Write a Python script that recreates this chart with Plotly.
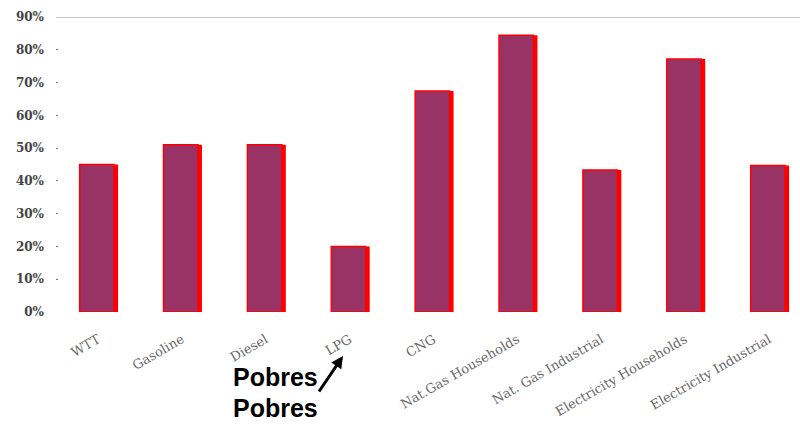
import plotly.graph_objects as go

categories = ["WTT", "Gasoline", "Diesel", "LPG", "CNG", "Nat.Gas Households",
              "Nat. Gas Industrial", "Electricity Households", "Electricity Industrial"]
shares = [0.45, 0.51, 0.51, 0.20, 0.674, 0.844, 0.433, 0.772, 0.447]
ytick_vals = [0, 0.1, 0.2, 0.3, 0.4, 0.5, 0.6, 0.7, 0.8, 0.9]
ytick_text = ["0%", "10%", "20%", "30%", "40%", "50%", "60%", "70%", "80%", "90%"]

W, H = 800, 427
L, R, T, B = 56, 0, 17, 115
pw, ph = W - L - R, H - T - B


def px(x):
    return (x - L) / pw


def py(y):
    return (H - B - y) / ph


fig = go.Figure()
# red drop-shadow behind each bar
fig.add_trace(go.Bar(
    x=list(range(len(categories))), y=shares, width=0.44, offset=-0.2,
    marker=dict(color="#ff0000", line=dict(width=0)),
    hoverinfo="skip", showlegend=False,
))
fig.add_trace(go.Bar(
    x=list(range(len(categories))), y=shares, width=0.41, offset=-0.218,
    marker=dict(color="#993366", line=dict(color="#ff0000", width=1.5)),
    showlegend=False,
))

# top border line at 90%
fig.add_shape(type="line", xref="paper", yref="y", x0=0, x1=1, y0=0.9, y1=0.9,
              line=dict(color="#8c8c8c", width=1.2))

# "Pobres" labels with arrow pointing at LPG
for yy in (377, 408):
    fig.add_annotation(xref="paper", yref="paper", x=px(275), y=py(yy), text="<b>Pobres</b>",
                       xanchor="center", yanchor="middle", showarrow=False,
                       font=dict(family="Arial, Liberation Sans", size=25, color="black"))
fig.add_annotation(xref="paper", yref="paper", x=px(343), y=py(356), text="",
                   showarrow=True, axref="pixel", ayref="pixel", ax=-25, ay=37,
                   arrowhead=2, arrowsize=0.8, arrowwidth=3, arrowcolor="black")

fig.update_layout(
    width=W, height=H,
    margin=dict(l=L, r=R, t=T, b=B),
    paper_bgcolor="white", plot_bgcolor="white",
    barmode="overlay",
    xaxis=dict(
        range=[-0.5, 8.37], tickmode="array", tickvals=list(range(len(categories))),
        ticktext=categories, tickangle=-30, showgrid=False, zeroline=False, showline=False,
        ticks="outside", ticklen=14, tickcolor="rgba(0,0,0,0)",
        tickfont=dict(family="DejaVu Serif", size=13, color="#6a6a6a"),
    ),
    yaxis=dict(
        range=[0, 0.9], tickmode="array", tickvals=ytick_vals, ticktext=ytick_text,
        showgrid=False, zeroline=False, showline=False,
        ticks="inside", ticklen=2, tickcolor="#777777", ticklabelstandoff=11,
        tickfont=dict(family="DejaVu Serif", size=12, color="#444444", weight="bold"),
    ),
)

fig.write_html("out.html")
